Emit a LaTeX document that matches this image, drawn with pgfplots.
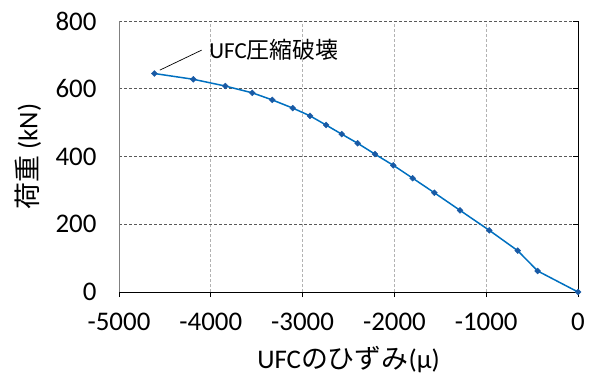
\documentclass[border=0pt]{standalone}
\usepackage{pgfplots}
\pgfplotsset{compat=1.18}
\usepackage{fontspec}
\setmainfont{Carlito}
\newfontfamily\jp{Noto Sans CJK JP}
\definecolor{lineblue}{RGB}{0,112,192}
\definecolor{markblue}{RGB}{25,90,165}
\begin{document}
\begin{tikzpicture}[x=1bp,y=1bp]
\useasboundingbox (0,0) rectangle (590,374);
\begin{axis}[
  at={(119bp,82bp)}, anchor=south west,
  scale only axis, width=459bp, height=271bp,
  xmin=-5000, xmax=0, ymin=0, ymax=800,
  xtick={-5000,-4000,-3000,-2000,-1000,0},
  xticklabels={-5000,-4000,-3000,-2000,-1000,0},
  ytick={0,200,400,600,800},
  yticklabels={0,200,400,600,800},
  axis line style={draw=none},
  xmajorgrids, ymajorgrids,
  x grid style={black!30, dash pattern=on 3bp off 2bp, line width=0.8bp},
  y grid style={black!65, dash pattern=on 3bp off 2bp, line width=0.8bp},
  xtick pos=bottom, ytick pos=right, yticklabel pos=left,
  tick align=inside,
  major tick length=5bp,
  xtick style={black, line width=0.8bp, yshift=-5bp},
  ytick style={black, line width=0.8bp},
  ticklabel style={font=\fontsize{27}{27}\selectfont},
  xticklabel style={yshift=-18bp},
  yticklabel style={xshift=-19bp},
  xlabel={UFC{\jp のひずみ}(μ)},
  ylabel={{\jp 荷重} (kN)},
  label style={font=\fontsize{27}{27}\selectfont},
  xlabel style={at={(axis description cs:0.5,0)}, anchor=base, yshift=-76bp},
  ylabel style={at={(axis description cs:-0.1983,0.5)}, anchor=center},
  clip=false,
]
\draw[black!50, line width=1bp] (axis cs:-5000,0) -- (axis cs:-5000,800);
\draw[black, line width=0.9bp] (axis cs:-5000,0) -- (axis cs:0,0) -- (axis cs:0,800);
\addplot[lineblue, line width=1.5bp, mark=square*, mark size=2.1bp,
  mark options={fill=markblue, draw=markblue, line width=0.4bp, rotate=45}] coordinates {
  (-4615,645) (-4191,628) (-3842,608) (-3548,588) (-3330,567) (-3108,543)
  (-2919,520) (-2745,493) (-2574,466) (-2400,439) (-2212,407) (-2012,374)
  (-1801,336) (-1565,293) (-1285,241) (-966,182) (-657,122) (-439,62) (0,0)
};
\draw[black, line width=0.7bp] (axis cs:-4555,655) -- (axis cs:-4100,714)
  node[right, inner sep=7.5bp, font=\fontsize{23}{23}\selectfont] {UFC{\jp 圧縮破壊}};
\end{axis}
\end{tikzpicture}
\end{document}
